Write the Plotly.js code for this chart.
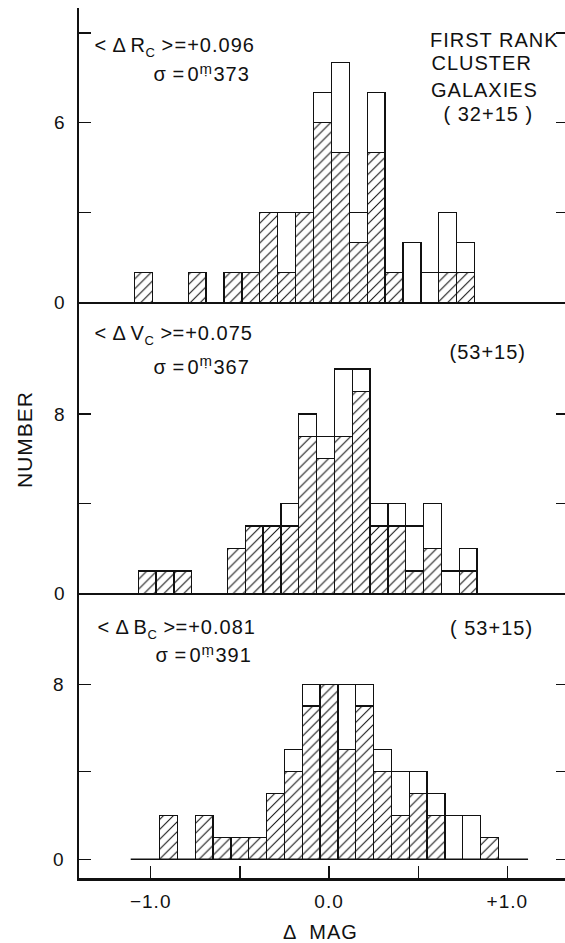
<!DOCTYPE html>
<html>
<head>
<meta charset="utf-8">
<script src="https://cdn.plot.ly/plotly-3.0.1.min.js"></script>
<style>
  html, body { margin: 0; padding: 0; overflow: hidden; background: #fff; }
  #chart { width: 575px; height: 943px; }
  #chart .annotation-text { letter-spacing: 1px; }
  #chart .xtick text, #chart .ytick text { letter-spacing: 1px; }
</style>
</head>
<body>
<div id="chart"></div>
<script>
// ---- data ----
const binCenters = [-1.0,-0.9,-0.8,-0.7,-0.6,-0.5,-0.4,-0.3,-0.2,-0.1,0.0,0.1,0.2,0.3,0.4,0.5,0.6,0.7,0.8,0.9];

// Top panel: Rc
const rHatched = [1,0,0,1,0,1,1,3,1,3,6,5,2,5,1,0,0,1,1,0];
const rOpen    = [0,0,0,0,0,0,0,0,2,0,1,3,1,2,0,2,1,2,1,0];
// Middle panel: Vc
const vHatched = [1,1,1,0,0,2,3,3,3,7,6,7,9,3,3,1,2,0,1,0];
const vOpen    = [0,0,0,0,0,0,0,0,1,1,1,3,1,1,1,2,2,1,1,0];
// Bottom panel: Bc
const bHatched = [0,2,0,2,1,1,1,3,4,7,8,5,7,4,2,3,2,0,0,1];
const bOpen    = [0,0,0,0,0,0,0,0,1,1,0,3,1,1,2,1,1,2,2,0];

const xTickVals = [-1.0, 0.0, 1.0];
const xTickText = ["\u22121.0", "0.0", "+1.0"];
const xMinorVals = [-0.5, 0.5];

const rTickVals = [0, 6];  const rTickText = ["0", "6"];  const rMinorVals = [3, 9];
const vTickVals = [0, 8];  const vTickText = ["0", "8"];  const vMinorVals = [4];
const bTickVals = [0, 8];  const bTickText = ["0", "8"];  const bMinorVals = [4];

const panelStats = [
  {band: "R", mean: "+0.096", sigma: "373"},
  {band: "V", mean: "+0.075", sigma: "367"},
  {band: "B", mean: "+0.081", sigma: "391"}
];
const sampleLabels = ["( 32+15 )", "(53+15)", "( 53+15)"];
const titleLines = ["FIRST RANK", "CLUSTER", "GALAXIES"];

// ---- styling / layout ----
const FONT = "Liberation Sans, DejaVu Sans, Arial, sans-serif";
const INK = "#111";
const FS = 20;
const LS = 1; // letter spacing (css) of annotation text
const L = 79, R = 7, T = 8, B = 65, W = 575, H = 943;
const PW = W - L - R, PH = H - T - B;
const px = x => (x - L) / PW;
const py = y => (T + PH - y) / PH;

const nz = a => a.map(v => v === 0 ? null : v);

function barPair(h, o, xa, ya) {
  const lineStyle = {color: INK, width: 1.3};
  return [
    {type: 'bar', x: binCenters, y: nz(h), xaxis: xa, yaxis: ya, width: 0.1,
     marker: {color: 'white', line: lineStyle,
              pattern: {shape: '/', fgcolor: INK, bgcolor: 'white', size: 7, solidity: 0.15}},
     hoverinfo: 'skip', showlegend: false},
    {type: 'bar', x: binCenters, y: nz(o), xaxis: xa, yaxis: ya, width: 0.1,
     marker: {color: 'white', line: lineStyle},
     hoverinfo: 'skip', showlegend: false}
  ];
}

const traces = [
  ...barPair(bHatched, bOpen, 'x', 'y'),
  ...barPair(vHatched, vOpen, 'x2', 'y2'),
  ...barPair(rHatched, rOpen, 'x3', 'y3')
];

function yAxis(extra, minorVals) {
  return Object.assign({
    showline: true, linecolor: INK, linewidth: 2.5, mirror: 'ticks',
    ticks: 'inside', ticklen: 12, tickwidth: 1.3, tickcolor: INK,
    minor: {tickvals: minorVals, ticks: 'inside', ticklen: 12, tickwidth: 1.3, tickcolor: INK, showgrid: false},
    showgrid: false, zeroline: false, fixedrange: true,
    tickfont: {family: FONT, size: 19, color: INK}, ticklabelstandoff: 8
  }, extra);
}
const xBase = {
  showgrid: false, zeroline: false, fixedrange: true,
  showline: true, linecolor: INK
};

const dB = [0, py(593.3)];
const dV = [py(593.3), py(302.3)];
const dR = [py(302.3), 1];

const layout = {
  width: W, height: H,
  margin: {l: L, r: R, t: T, b: B},
  paper_bgcolor: 'white', plot_bgcolor: 'rgba(0,0,0,0)',
  barmode: 'stack', bargap: 0,
  font: {family: FONT, size: FS, color: INK},
  xaxis: Object.assign({}, xBase, {
    anchor: 'y', domain: [0, 1], range: [-1.402, 1.340], linewidth: 3,
    ticks: 'inside', ticklen: 12, tickwidth: 1.3, tickcolor: INK,
    tickvals: xTickVals, ticktext: xTickText,
    minor: {tickvals: xMinorVals, ticks: 'inside', ticklen: 12, tickwidth: 1.3, tickcolor: INK, showgrid: false},
    tickfont: {family: FONT, size: 19, color: INK}, ticklabelstandoff: 4
  }),
  xaxis2: Object.assign({}, xBase, {
    anchor: 'y2', domain: [0, 1], range: [-1.3825, 1.360], linewidth: 1.5,
    ticks: '', showticklabels: false
  }),
  xaxis3: Object.assign({}, xBase, {
    anchor: 'y3', domain: [0, 1], range: [-1.360, 1.3715], linewidth: 1.5,
    ticks: '', showticklabels: false
  }),
  xaxis4: Object.assign({}, xBase, {
    overlaying: 'x3', anchor: 'y3', side: 'top', range: [-1.360, 1.3715], linewidth: 2.5,
    ticks: 'inside', ticklen: 15, tickwidth: 1.3, tickcolor: INK,
    tickvals: xTickVals,
    minor: {tickvals: xMinorVals, ticks: 'inside', ticklen: 15, tickwidth: 1.3, tickcolor: INK, showgrid: false},
    showticklabels: false
  }),
  yaxis: yAxis({anchor: 'x', domain: dB, range: [-0.854, 12.15],
                tickvals: bTickVals, ticktext: bTickText}, bMinorVals),
  yaxis2: yAxis({anchor: 'x2', domain: dV, range: [0, 12.98],
                 tickvals: vTickVals, ticktext: vTickText}, vMinorVals),
  yaxis3: yAxis({anchor: 'x3', domain: dR, range: [0, 9.83],
                 tickvals: rTickVals, ticktext: rTickText}, rMinorVals),
  shapes: [
    {type: 'line', xref: 'x', yref: 'y', x0: -1.112, x1: 1.116, y0: 0, y1: 0,
     line: {color: INK, width: 1.5}}
  ],
  annotations: []
};

// text measuring for composing sub/superscripts as separate pieces
const cv = document.createElement('canvas').getContext('2d');
function tw(t, s) {
  cv.font = s + 'px "Liberation Sans", "DejaVu Sans", Arial, sans-serif';
  return cv.measureText(t).width + LS * [...t].length;
}

function ann(text, x, y, opts) {
  layout.annotations.push(Object.assign({
    text: text, xref: 'paper', yref: 'paper', x: px(x), y: py(y),
    xanchor: 'left', yanchor: 'middle', showarrow: false, borderpad: 0,
    font: {family: FONT, size: FS, color: INK}
  }, opts || {}));
}
// pieces: {t, s, dy, gap}
function seq(x, y, pieces) {
  let cx = x;
  pieces.forEach(p => {
    const s = p.s || FS;
    ann(p.t.replace(/</g, '&lt;').replace(/>/g, '&gt;'), cx, y + (p.dy || 0),
        {font: {family: FONT, size: s, color: INK}});
    cx += tw(p.t, s) + (p.gap || 0);
  });
}
function statBlock(st, x1, y1, x2, y2) {
  seq(x1, y1, [
    {t: "<", gap: 5}, {t: "\u0394", gap: 4}, {t: st.band, gap: 0},
    {t: "C", s: 13, dy: 7, gap: 5}, {t: ">", gap: 3}, {t: "=+" + st.mean.slice(1)}
  ]);
  seq(x2, y2, [
    {t: "\u03C3", gap: 6}, {t: "=", gap: 2}, {t: "0", gap: 0},
    {t: "\u1E43", s: 15, dy: -6, gap: 1},
    {t: st.sigma}
  ]);
}

// top panel
statBlock(panelStats[0], 94, 45, 153, 74);
ann(titleLines[0], 434, 40);
ann(titleLines[1], 434, 63);
ann(titleLines[2], 434, 90);
ann(sampleLabels[0], 447, 114);
// middle panel
statBlock(panelStats[1], 94, 333, 153, 367);
ann(sampleLabels[1], 452, 352);
// bottom panel
statBlock(panelStats[2], 97, 627, 155, 655);
ann(sampleLabels[2], 453, 628);
// axis titles
ann("NUMBER", 24, 440, {xanchor: 'center', textangle: -90, font: {family: FONT, size: 21, color: INK}});
ann("\u0394  MAG", 320, 932, {xanchor: 'center', font: {family: FONT, size: 20, color: INK}});

Plotly.newPlot('chart', traces, layout, {staticPlot: true, displayModeBar: false});
</script>
</body>
</html>
